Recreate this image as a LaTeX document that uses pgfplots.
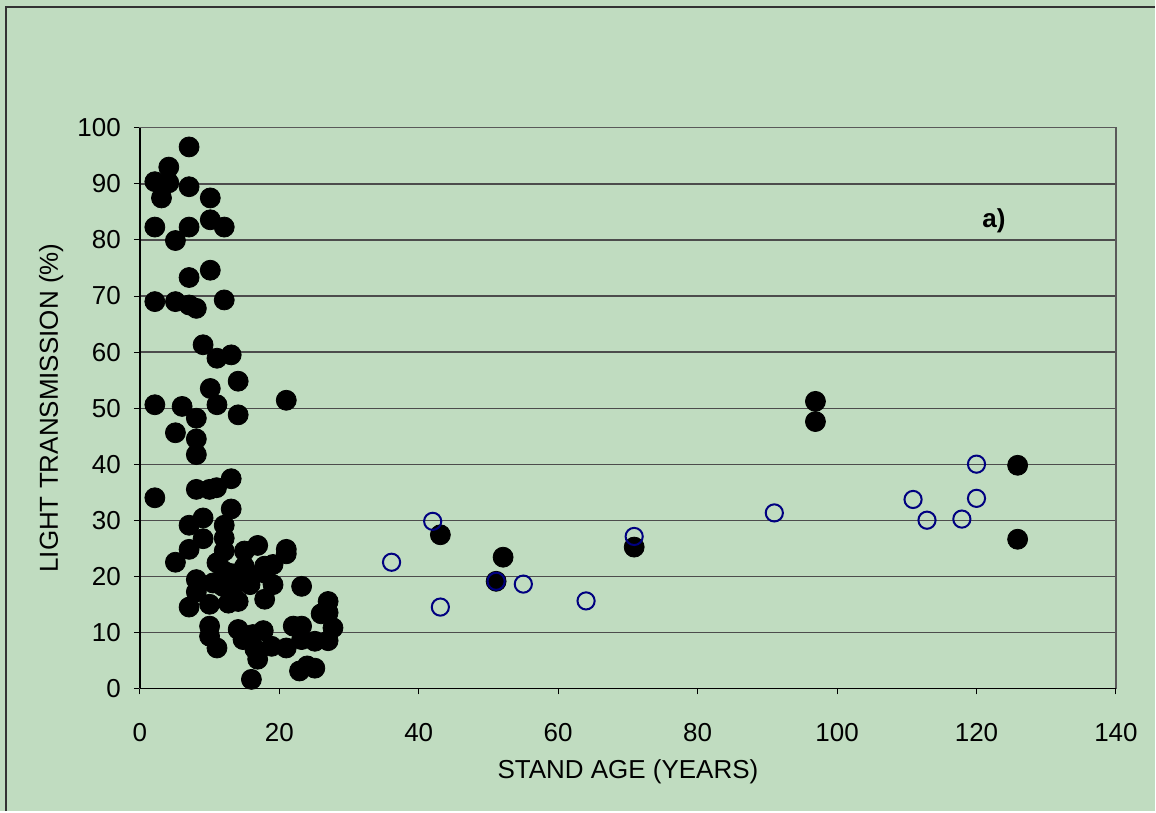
\documentclass[border=0pt]{standalone}
\usepackage{pgfplots}
\pgfplotsset{compat=1.18}
\usepackage{fontspec}
\setmainfont{Liberation Sans}
\definecolor{bg}{RGB}{192,220,192}
\definecolor{navy}{RGB}{0,0,128}
\pgfplotstableread{
x y
7.06 96.6
4.15 93.0
2.15 90.4
4.15 90.2
3.1 87.5
7.06 89.5
10.1 87.5
2.15 82.3
7.06 82.3
10.1 83.6
12.1 82.3
5.1 79.9
7.06 73.3
10.1 74.6
2.15 69.0
5.1 69.0
7.06 68.4
8.1 67.8
12.1 69.3
9.07 61.3
11.06 58.9
13.1 59.5
10.1 53.5
14.1 54.8
2.15 50.6
6.06 50.3
11.06 50.6
14.1 48.8
8.1 48.2
5.1 45.6
8.1 44.5
8.1 41.7
21.0 51.4
13.1 37.4
11.0 35.8
8.1 35.5
10.0 35.5
2.15 34.0
13.1 32.0
9.07 30.4
7.06 29.1
12.1 29.1
9.07 26.7
12.1 26.8
7.06 24.8
12.1 24.5
5.1 22.5
11.06 22.4
15.0 24.5
16.9 25.5
21.0 24.8
21.0 24.0
19.1 22.1
17.9 21.8
15.0 21.7
14.0 20.5
8.1 19.4
10.5 18.8
13.4 18.2
15.8 18.5
8.1 17.2
11.9 18.2
14.3 19.5
19.1 18.5
23.2 18.2
7.06 14.5
10.0 15.0
12.7 15.2
14.1 15.5
17.9 15.9
27.0 15.5
26.0 13.3
27.0 13.5
27.7 10.8
22.0 11.1
23.2 11.1
27.0 8.5
25.1 8.4
23.2 8.7
21.0 7.2
18.9 7.5
16.2 9.6
10.0 11.1
10.0 9.3
11.06 7.2
14.1 10.5
14.8 8.7
15.8 9.3
16.5 7.0
16.9 5.2
17.7 10.3
16.0 1.6
22.9 3.1
25.1 3.6
24.0 4.0
13.0 20.5
12.0 21.0
16.0 20.0
18.0 20.5
43.1 27.4
52.1 23.4
51.1 19.1
70.9 25.2
96.9 51.2
96.9 47.6
125.9 39.8
125.9 26.6
}\filled
\pgfplotstableread{
x y
36.1 22.5
42.0 29.8
43.1 14.5
51.1 19.1
55.0 18.6
64.0 15.6
70.9 27.1
91.0 31.3
110.9 33.7
112.9 30.0
117.9 30.2
120.0 40.0
120.0 33.9
}\open
\begin{document}
\begin{tikzpicture}
\fill[bg] (-70pt,-61.5pt) rectangle (508pt,344.5pt);
\draw[black!80,line width=1.1pt] (-67pt,-61.5pt) -- (-67pt,341pt) -- (508pt,341pt);
\begin{axis}[
  at={(0,0)}, anchor=south west,
  scale only axis, width=488.5pt, height=280.5pt,
  xmin=0, xmax=140, ymin=0, ymax=100,
  xtick={0,20,...,140}, ytick={0,10,...,100},
  axis background/.style={fill=bg},
  axis line style={black!65, line width=0.6pt},
  ymajorgrids, grid style={black!70, line width=0.6pt},
  tick align=outside, major tick length=3pt,
  tick style={black, line width=0.5pt},
  xtick pos=bottom, ytick pos=left,
  font=\fontsize{13}{15}\selectfont,
  /pgf/number format/assume math mode=true,
  ticklabel style={font=\fontsize{13}{15}\selectfont},
  xticklabel style={anchor=center, yshift=-19pt},
  yticklabel style={xshift=-3pt},
  xlabel={STAND AGE (YEARS)},
  ylabel={LIGHT TRANSMISSION (\%)},
  xlabel style={at={(axis description cs:0.5,-0.148)}, anchor=center},
  ylabel style={at={(axis description cs:-0.091,0.5)}, anchor=center},
  clip=false,
]
\addplot[only marks, mark=*, mark size=5pt, mark options={fill=black, draw=black}] table[x=x,y=y] {\filled};
\addplot[only marks, mark=o, mark size=4.3pt, mark options={draw=navy, line width=1pt}] table[x=x,y=y] {\open};
\node[font=\fontsize{13}{15}\selectfont\bfseries] at (axis cs:122.5,83.4) {a)};
\draw[black, line width=0.7pt] (rel axis cs:0,0) -- (rel axis cs:1,0);
\draw[black, line width=0.7pt] (rel axis cs:0,0) -- (rel axis cs:0,1);
\end{axis}
\end{tikzpicture}
\end{document}
